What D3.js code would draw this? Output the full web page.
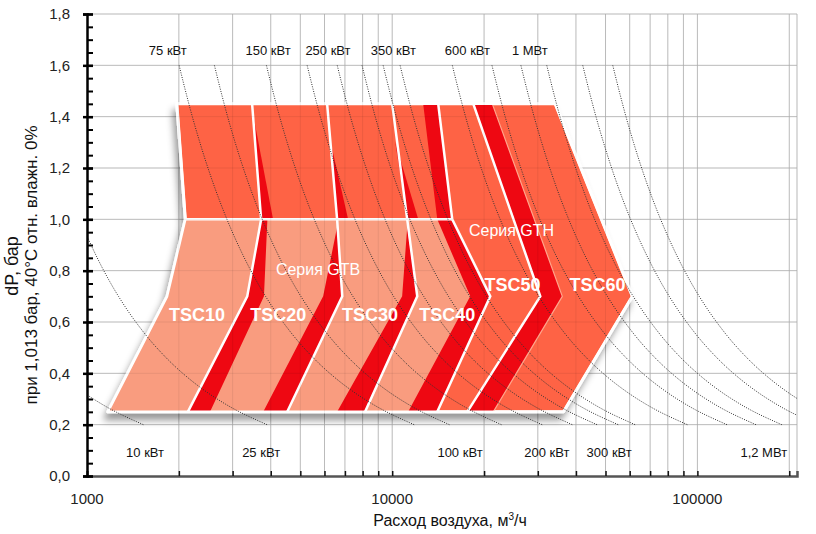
<!DOCTYPE html>
<html>
<head>
<meta charset="utf-8">
<script src="https://cdn.jsdelivr.net/npm/d3@7"></script>
<style>
  body { margin: 0; background: #fff; }
  svg { display: block; font-family: "Liberation Sans", Arial, Helvetica, sans-serif; }
</style>
</head>
<body>
<div id="chart"></div>
<script>
// axis ticks
const yTicks = [0, 0.2, 0.4, 0.6, 0.8, 1.0, 1.2, 1.4, 1.6, 1.8];
const yMinorTicks = d3.range(0, 1.8001, 0.05);
const xDecades = [1000, 10000, 100000];
const xMinorTicks = [2000, 3000, 4000, 5000, 6000, 7000, 8000, 9000, 10000,
  20000, 30000, 40000, 50000, 60000, 70000, 80000, 90000, 100000, 200000, 212000];

// iso-power curves: flow (m3/h) at dP = 0.2 bar, and common curve shape
const isoPowerFlow = [1530, 3890, 11800, 15400, 22800, 31000, 38900, 46900, 55000,
  62500, 92700, 125000, 155500, 189000, 248000, 311000];
const curveShapeDp = [0.2, 0.25, 0.3, 0.35, 0.4, 0.5, 0.6, 0.7, 0.8, 0.9, 1.0, 1.1, 1.2, 1.3, 1.4, 1.5, 1.6];
const curveShapeRatio = [1, 0.8117, 0.6863, 0.5967, 0.5293, 0.4347, 0.3715, 0.326, 0.2918,
  0.2651, 0.2436, 0.2259, 0.2111, 0.1985, 0.1876, 0.1782, 0.1698];

const topPowerLabels = ["75 кВт", "150 кВт", "250 кВт", "350 кВт", "600 кВт", "1 МВт"];
const topPowerLabelFlow = [1840, 3920, 6160, 10090, 17640, 28260];
const bottomPowerLabels = ["10 кВт", "25 кВт", "100 кВт", "200 кВт", "300 кВт", "1,2 МВт"];
const bottomPowerLabelFlow = [1550, 3720, 16680, 32100, 51400, 165000];

// model map, [flow, dP]
const outlineGTH = [[1970, 1.45], [34200, 1.45], [61200, 0.7], [36400, 0.25],
  [1170, 0.25], [1830, 0.7], [2100, 1.0]];
const areaGTB = [[2100, 1.0], [15730, 1.0], [20960, 0.7], [14050, 0.25], [1170, 0.25], [1830, 0.7]];
const redBands = [
  [[3500, 1.41], [3720, 1.0], [4070, 1.0]],
  [[3720, 1.0], [3350, 0.7], [2140, 0.25], [2530, 0.25], [3800, 0.7], [3900, 1.0]],
  [[6260, 1.31], [6600, 1.0], [7170, 1.0]],
  [[6600, 0.97], [6860, 0.7], [4530, 0.25], [3780, 0.25], [5940, 0.7]],
  [[10230, 1.3], [11200, 1.0], [12170, 1.0]],
  [[11200, 0.97], [12080, 0.7], [8150, 0.25], [6600, 0.25], [10780, 0.7]],
  [[12630, 1.45], [14150, 1.45], [15730, 1.0], [20960, 0.7], [14050, 0.25],
   [11280, 0.25], [18020, 0.7], [14050, 1.0]],
  [[18440, 1.45], [21280, 1.45], [36090, 0.7], [21440, 0.25], [17620, 0.25], [30570, 0.7]]
];
const whiteLines = [
  [[3475, 1.45], [3720, 1.0], [3350, 0.7], [2140, 0.25]],
  [[6120, 1.45], [6600, 1.0], [6860, 0.7], [4530, 0.25]],
  [[10000, 1.45], [11200, 1.0], [12080, 0.7], [8150, 0.25]],
  [[14150, 1.45], [15730, 1.0], [20960, 0.7], [14050, 0.25]],
  [[18440, 1.45], [30570, 0.7], [17620, 0.25]],
  [[2100, 1.0], [15730, 1.0]]
];
const lightEdge = [[21280, 1.45], [36090, 0.7], [21440, 0.25]];

const modelNames = ["TSC10", "TSC20", "TSC30", "TSC40", "TSC50", "TSC60"];
const modelLabelFlow = [2293, 4231, 8465, 15150, 24800, 47040];
const modelLabelDp = [0.627, 0.627, 0.627, 0.627, 0.744, 0.744];
const seriesNames = ["Серия GTB", "Серия GTH"];
const seriesLabelFlow = [5716, 24600];
const seriesLabelDp = [0.803, 0.955];

const width = 816, height = 534;
const margin = { top: 14, right: 19, bottom: 58, left: 87 };

const x = d3.scaleLog().domain([1000, 212000]).range([margin.left, width - margin.right]);
const y = d3.scaleLinear().domain([0, 1.8]).range([height - margin.bottom, margin.top]);

const svg = d3.select("#chart").append("svg")
  .attr("width", width).attr("height", height)
  .attr("viewBox", [0, 0, width, height]);

const defs = svg.append("defs");
defs.append("clipPath").attr("id", "plot")
  .append("rect")
  .attr("x", margin.left).attr("y", margin.top)
  .attr("width", width - margin.right - margin.left)
  .attr("height", height - margin.bottom - margin.top);
const filt = defs.append("filter").attr("id", "shadow")
  .attr("x", "-20%").attr("y", "-20%").attr("width", "140%").attr("height", "150%");
filt.append("feDropShadow")
  .attr("dx", -3).attr("dy", 7).attr("stdDeviation", 3.5)
  .attr("flood-color", "#000").attr("flood-opacity", 0.4);

const fmt = d => d.toFixed(1).replace(".", ",");
const poly = d3.line().x(d => x(d[0])).y(d => y(d[1]));

// grid
const grid = g => {
  g.selectAll(".v").data(xMinorTicks).join("line")
    .attr("x1", d => x(d)).attr("x2", d => x(d))
    .attr("y1", y(0)).attr("y2", y(1.8));
  g.selectAll(".h").data(yTicks.slice(1)).join("line")
    .attr("x1", x(1000)).attr("x2", x(212000))
    .attr("y1", d => y(d)).attr("y2", d => y(d));
};
svg.append("g").attr("stroke", "#c9c9c9").attr("stroke-width", 1).call(grid);

// model map
const map = svg.append("g");
map.append("path")
  .attr("d", poly(outlineGTH) + "Z")
  .attr("fill", "#fe6444")
  .attr("stroke", "#fff").attr("stroke-width", 3).attr("stroke-linejoin", "round")
  .attr("filter", "url(#shadow)");
map.append("path").attr("d", poly(areaGTB) + "Z").attr("fill", "#f99c7f");
map.selectAll(".red").data(redBands).join("path")
  .attr("d", d => poly(d) + "Z")
  .attr("fill", "#ee0812");
map.append("path").attr("d", poly(lightEdge))
  .attr("fill", "none").attr("stroke", "#ffa58c").attr("stroke-width", 1.2);
map.selectAll(".wl").data(whiteLines).join("path")
  .attr("d", d => poly(d))
  .attr("fill", "none").attr("stroke", "#fff").attr("stroke-width", 2.5);
map.append("path")
  .attr("d", poly(outlineGTH) + "Z")
  .attr("fill", "none")
  .attr("stroke", "#fff").attr("stroke-width", 2.5).attr("stroke-linejoin", "round");

// faint grid over the map
svg.append("g").attr("stroke", "#000").attr("stroke-opacity", 0.07).call(grid);

// iso-power curves
const curve = d3.line().curve(d3.curveMonotoneY)
  .x(d => x(d[0])).y(d => y(d[1]));
svg.append("g").attr("clip-path", "url(#plot)")
  .selectAll("path").data(isoPowerFlow).join("path")
  .attr("d", q => curve(curveShapeDp.map((p, i) => [q * curveShapeRatio[i], p])))
  .attr("fill", "none").attr("stroke", "#333").attr("stroke-width", 1)
  .attr("stroke-dasharray", "1,1.4");

// model and series labels
svg.append("g").selectAll("text").data(modelNames).join("text")
  .attr("x", (d, i) => x(modelLabelFlow[i]))
  .attr("y", (d, i) => y(modelLabelDp[i]))
  .attr("dy", "0.35em").attr("text-anchor", "middle")
  .attr("fill", "#fff").attr("font-size", 18).attr("font-weight", "bold")
  .text(d => d);
svg.append("g").selectAll("text").data(seriesNames).join("text")
  .attr("x", (d, i) => x(seriesLabelFlow[i]))
  .attr("y", (d, i) => y(seriesLabelDp[i]))
  .attr("dy", "0.35em").attr("text-anchor", "middle")
  .attr("fill", "#fff").attr("font-size", 16)
  .text(d => d);

// power labels
svg.append("g").selectAll("text").data(topPowerLabels).join("text")
  .attr("x", (d, i) => x(topPowerLabelFlow[i])).attr("y", 55)
  .attr("text-anchor", "middle").attr("font-size", 13).attr("fill", "#111")
  .text(d => d);
svg.append("g").selectAll("text").data(bottomPowerLabels).join("text")
  .attr("x", (d, i) => x(bottomPowerLabelFlow[i])).attr("y", 457)
  .attr("text-anchor", "middle").attr("font-size", 13).attr("fill", "#111")
  .text(d => d);

// x axis
svg.append("g")
  .attr("transform", `translate(0,${y(0)})`)
  .call(d3.axisBottom(x).tickValues(xMinorTicks.slice(0, -1)).tickSize(-5).tickFormat(""))
  .call(g => g.select(".domain").attr("stroke", "#555").attr("stroke-width", 2.5))
  .call(g => g.selectAll(".tick line").attr("stroke", "#111").attr("stroke-width", 1.5));
svg.append("g").selectAll("text").data(xDecades).join("text")
  .attr("x", d => x(d)).attr("y", y(0) + 28)
  .attr("text-anchor", "middle").attr("font-size", 15).attr("fill", "#222")
  .text(d => d);
svg.append("text")
  .attr("x", 450).attr("y", 526)
  .attr("text-anchor", "middle").attr("font-size", 16).attr("fill", "#111")
  .html("Расход воздуха, м<tspan dy='-6' font-size='10'>3</tspan><tspan dy='6'>/ч</tspan>");

// y axis
svg.append("g")
  .attr("transform", `translate(${margin.left},0)`)
  .call(d3.axisRight(y).tickValues(yMinorTicks).tickSize(6).tickFormat(""))
  .call(g => g.select(".domain").remove())
  .call(g => g.selectAll(".tick line").attr("stroke", "#000").attr("stroke-width", 2));
svg.append("g")
  .attr("transform", `translate(${margin.left},0)`)
  .call(d3.axisLeft(y).tickValues(yTicks).tickSize(4).tickPadding(13).tickFormat(fmt))
  .call(g => g.select(".domain").attr("stroke", "#000").attr("stroke-width", 2.5))
  .call(g => g.selectAll(".tick line").attr("x2", 6).attr("x1", -4).attr("stroke", "#000").attr("stroke-width", 2.5))
  .call(g => g.selectAll(".tick text").attr("font-size", 15).attr("fill", "#222")
    .attr("font-family", "'Liberation Sans', Arial, sans-serif"));

svg.append("text")
  .attr("transform", "translate(18,266) rotate(-90)")
  .attr("text-anchor", "middle").attr("font-size", 18).attr("fill", "#111")
  .text("dP, бар");
svg.append("text")
  .attr("transform", "translate(37,265) rotate(-90)")
  .attr("text-anchor", "middle").attr("font-size", 17).attr("fill", "#111")
  .text("при 1,013 бар, 40°С отн. влажн. 0%");
</script>
</body>
</html>
